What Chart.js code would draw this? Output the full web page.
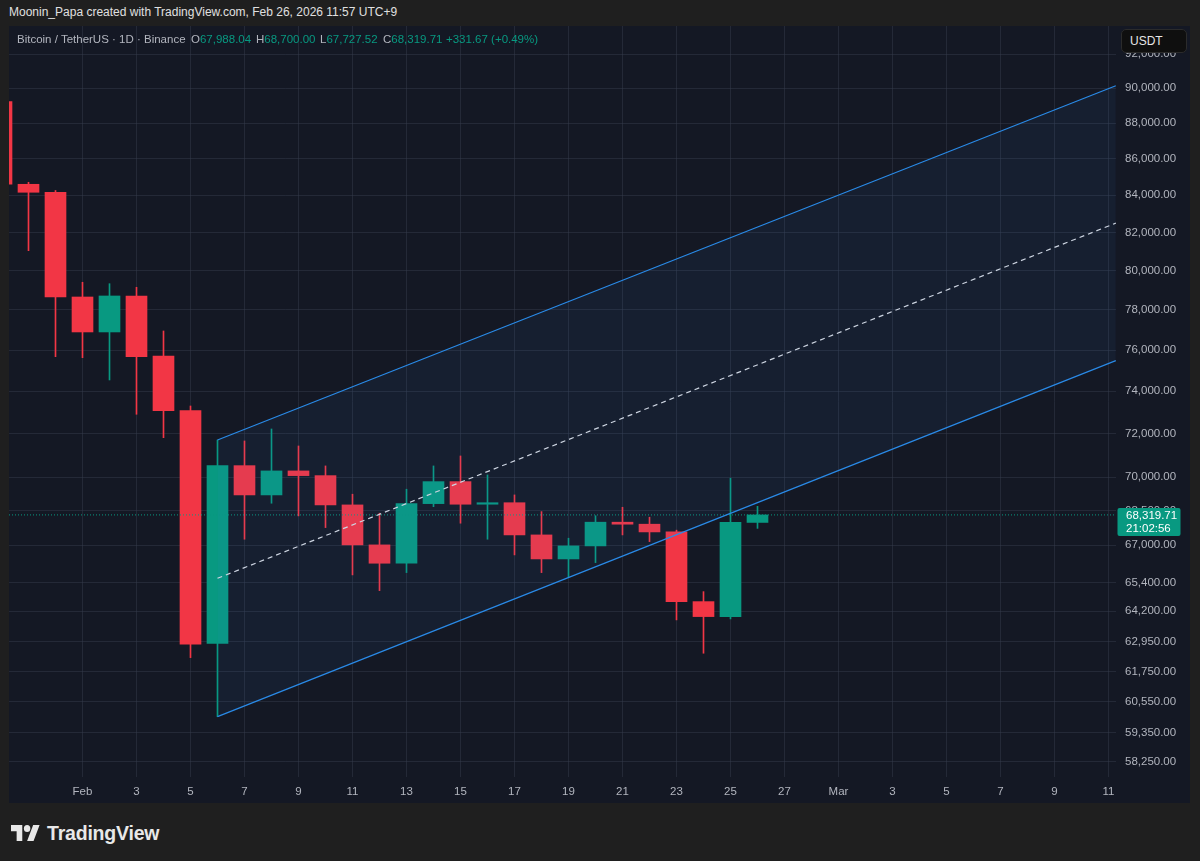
<!DOCTYPE html>
<html>
<head>
<meta charset="utf-8">
<script src="https://cdn.jsdelivr.net/npm/chart.js@4.4.1/dist/chart.umd.min.js"></script>
<style>
  html, body { margin:0; padding:0; width:1200px; height:861px; overflow:hidden; background:#1f1f1f;
    font-family:"Liberation Sans", Arial, sans-serif; }
  #title { position:absolute; left:9px; top:5px; color:#e0e0e0; font-size:12px; white-space:nowrap; }
  #pane { position:absolute; left:9px; top:26px; width:1181px; height:777px; background:#141824; }
  #chart { position:absolute; left:9px; top:26px; }
  #legend { position:absolute; top:33px; left:0; height:16px; font-size:11.5px; color:#b2b5be; white-space:nowrap; }
  #legend span { position:absolute; top:0; }
  .g { color:#089981; }
  #usdt { position:absolute; left:1121px; top:29px; width:66px; height:24px; box-sizing:border-box;
    background:#0f0f0f; border:1px solid #2b2b2b; border-radius:5px; color:#e6e6e6; font-size:12px;
    line-height:22px; padding-left:8px; }
  #footer { position:absolute; left:11px; top:822px; height:22px; }
  #footer svg { position:absolute; left:0; top:3px; }
  #footer .t { position:absolute; left:36px; top:0; color:#e8e8e8; font-size:19.5px; font-weight:bold; letter-spacing:-0.2px; line-height:22px; }
</style>
</head>
<body>
<div id="title">Moonin_Papa created with TradingView.com, Feb 26, 2026 11:57 UTC+9</div>
<div id="pane"></div>
<canvas id="chart" width="1181" height="777" style="width:1181px;height:777px"></canvas>
<div id="legend">
  <span style="left:17px">Bitcoin / TetherUS · 1D · Binance</span>
  <span style="left:191px">O<span class="g" id="lo" style="position:static"></span></span>
  <span style="left:256px">H<span class="g" id="lh" style="position:static"></span></span>
  <span style="left:320px">L<span class="g" id="ll" style="position:static"></span></span>
  <span style="left:383px">C<span class="g" id="lc" style="position:static"></span></span>
  <span style="left:446px" class="g" id="lchg"></span>
</div>
<div id="usdt">USDT</div>
<div id="footer">
  <svg width="29" height="16" viewBox="0 4 36 18" preserveAspectRatio="none">
    <path fill="#e8e8e8" d="M14 22H7V11H0V4h14v18zM28 22h-8l7.5-18h8L28 22z"/>
    <circle fill="#e8e8e8" cx="20" cy="8" r="4"/>
  </svg>
  <div class="t">TradingView</div>
</div>
<script>
// ---------- data ----------
const dates = ['2026-01-29','2026-01-30','2026-01-31','2026-02-01','2026-02-02','2026-02-03','2026-02-04',
  '2026-02-05','2026-02-06','2026-02-07','2026-02-08','2026-02-09','2026-02-10','2026-02-11','2026-02-12',
  '2026-02-13','2026-02-14','2026-02-15','2026-02-16','2026-02-17','2026-02-18','2026-02-19','2026-02-20',
  '2026-02-21','2026-02-22','2026-02-23','2026-02-24','2026-02-25','2026-02-26'];
const openP  = [89224, 84588, 84153, 78648, 76891, 78700, 75700, 73078, 62880, 70529, 69207, 70289, 70076, 68762, 67009,
  66220, 68819, 69805, 68793, 68860, 67442, 66404, 66965, 67999, 67911, 67573, 64598, 63976, 67988.04];
const highP  = [89500, 84698, 84250, 79400, 79327, 79143, 76940, 73300, 71709, 71663, 72220, 71431, 70516, 69239, 68395,
  69463, 70516, 70971, 70107, 69207, 68466, 67299, 68283, 68659, 68218, 67650, 65016, 69958, 68700.00];
const lowP   = [84200, 81036, 75673, 75624, 74543, 72909, 71815, 62302, 59972, 67255, 68837, 68276, 67762, 65722, 65058,
  65820, 68685, 67955, 67255, 66576, 65820, 65625, 66246, 67442, 67151, 63839, 62479, 63880, 67727.52];
const closeP = [84588, 84153, 78648, 76891, 78700, 75673, 73078, 62843, 70529, 69207, 70289, 70076, 68762, 67009, 66220,
  68819, 69805, 68793, 68860, 67442, 66404, 66965, 67999, 67911, 67573, 64598, 63976, 67988.04, 68319.71];

// parallel channel drawing (anchor at Feb 6, extended to right edge)
const channelDates = ['2026-02-06', '2026-03-11T06:30'];
const channelUpper = [71709, 90150];
const channelMid   = [65578, 82490];
const channelLower = [59972, 75480];

const xTickDates  = ['2026-02-01','2026-02-03','2026-02-05','2026-02-07','2026-02-09','2026-02-11','2026-02-13',
  '2026-02-15','2026-02-17','2026-02-19','2026-02-21','2026-02-23','2026-02-25','2026-02-27','2026-03-01',
  '2026-03-03','2026-03-05','2026-03-07','2026-03-09','2026-03-11'];
const xTickLabels = ['Feb','3','5','7','9','11','13','15','17','19','21','23','25','27','Mar','3','5','7','9','11'];
const yTickValues = [92000, 90000, 88000, 86000, 84000, 82000, 80000, 78000, 76000, 74000, 72000, 70000, 68500,
  67000, 65400, 64200, 62950, 61750, 60550, 59350, 58250];
const countdown = '21:02:56';

// ---------- helpers ----------
const BASE = Date.UTC(2026, 1, 1);
const dayOf = s => (Date.parse(s + (s.length === 10 ? 'T00:00:00Z' : ':00Z')) - BASE) / 86400000;
const fmt = v => Number(v).toLocaleString('en-US', {minimumFractionDigits:2, maximumFractionDigits:2});

const UP = '#089981', DOWN = '#f23645';
const colors = closeP.map((c, i) => c >= openP[i] ? UP : DOWN);
const X_MIN = -2.7222, X_MAX = 38.2778;
const last = closeP.length - 1;
const lastClose = closeP[last];

// legend
document.getElementById('lo').textContent = fmt(openP[last]);
document.getElementById('lh').textContent = fmt(highP[last]);
document.getElementById('ll').textContent = fmt(lowP[last]);
document.getElementById('lc').textContent = fmt(lastClose);
const chg = lastClose - closeP[last - 1];
document.getElementById('lchg').textContent = (chg >= 0 ? '+' : '') + fmt(chg) + ' (' + (chg >= 0 ? '+' : '') + (chg / closeP[last - 1] * 100).toFixed(2) + '%)';

const priceLabel = {
  id: 'priceLabel',
  afterDraw(chart) {
    const ctx = chart.ctx, y = chart.scales.y.getPixelForValue(lastClose);
    const x0 = chart.chartArea.right + 1.5;
    ctx.save();
    ctx.fillStyle = UP;
    ctx.beginPath();
    ctx.roundRect(x0, Math.round(y) - 7, 63, 28, 2);
    ctx.fill();
    ctx.fillStyle = '#ffffff';
    ctx.font = '11.5px "Liberation Sans", Arial, sans-serif';
    ctx.textBaseline = 'middle';
    ctx.textAlign = 'left';
    ctx.fillText(fmt(lastClose), x0 + 8.5, Math.round(y) + 0.5);
    ctx.fillText(countdown, x0 + 8.5, Math.round(y) + 14);
    ctx.restore();
  }
};

const gridColor = 'rgba(56,62,80,0.45)';
const tickFont = { family: '"Liberation Sans", Arial, sans-serif', size: 11.5 };

new Chart(document.getElementById('chart'), {
  data: {
    datasets: [
      { type:'line', label:'upper', order:0, data: channelDates.map((d,i)=>({x:dayOf(d), y:channelUpper[i]})),
        borderColor:'#2a8be8', borderWidth:1.2, pointRadius:0, fill:{target:2}, backgroundColor:'rgba(60,140,220,0.065)' },
      { type:'line', label:'mid', order:0, data: channelDates.map((d,i)=>({x:dayOf(d), y:channelMid[i]})),
        borderColor:'#d8dbe2', borderWidth:1.2, borderDash:[5,4], pointRadius:0, fill:false },
      { type:'line', label:'lower', order:0, data: channelDates.map((d,i)=>({x:dayOf(d), y:channelLower[i]})),
        borderColor:'#2a8be8', borderWidth:1.2, pointRadius:0, fill:false },
      { type:'line', label:'price', order:0, data:[{x:X_MIN, y:lastClose},{x:X_MAX, y:lastClose}],
        borderColor:UP, borderWidth:1, borderDash:[1,2], pointRadius:0, fill:false },
      { type:'bar', label:'wick', order:2, grouped:false, barThickness:1, minBarLength:1,
        data: dates.map((d,i)=>({x:dayOf(d), y:[lowP[i], highP[i]]})), backgroundColor: colors, borderWidth:0 },
      { type:'bar', label:'body', order:1, grouped:false, barThickness:21, minBarLength:1.5,
        data: dates.map((d,i)=>({x:dayOf(d), y:[openP[i], closeP[i]]})), backgroundColor: colors, borderWidth:0 }
    ]
  },
  options: {
    responsive:false, animation:false, devicePixelRatio:1,
    layout:{ padding:0 },
    plugins:{ legend:{display:false}, tooltip:{enabled:false} },
    scales:{
      x:{ type:'linear', min:X_MIN, max:X_MAX, bounds:'data', offset:false,
        grid:{ color:gridColor, drawTicks:false, lineWidth:1, offset:false },
        border:{ display:false },
        ticks:{ autoSkip:false, maxRotation:0, minRotation:0, padding:8, color:'#b2b5be', font:tickFont,
          callback:(v,i)=>xTickLabels[i] },
        afterBuildTicks: s => { s.ticks = xTickDates.map(d => ({value: dayOf(d)})); },
        afterFit: s => { s.height = 26; s.paddingLeft = 0; s.paddingRight = 0; s.paddingTop = 0; s.paddingBottom = 0; }
      },
      y:{ type:'logarithmic', position:'right', min:57678, max:93696, bounds:'data',
        grid:{ color:gridColor, drawTicks:false, lineWidth:1 },
        border:{ display:false },
        ticks:{ autoSkip:false, padding:9, color:'#b2b5be', font:tickFont, callback:(v)=>fmt(v) },
        afterBuildTicks: s => { s.ticks = yTickValues.map(v => ({value:v})); },
        afterFit: s => { s.width = 74; s.paddingLeft = 0; s.paddingRight = 0; s.paddingTop = 0; s.paddingBottom = 0; }
      }
    }
  },
  plugins:[priceLabel]
});
</script>
</body>
</html>
